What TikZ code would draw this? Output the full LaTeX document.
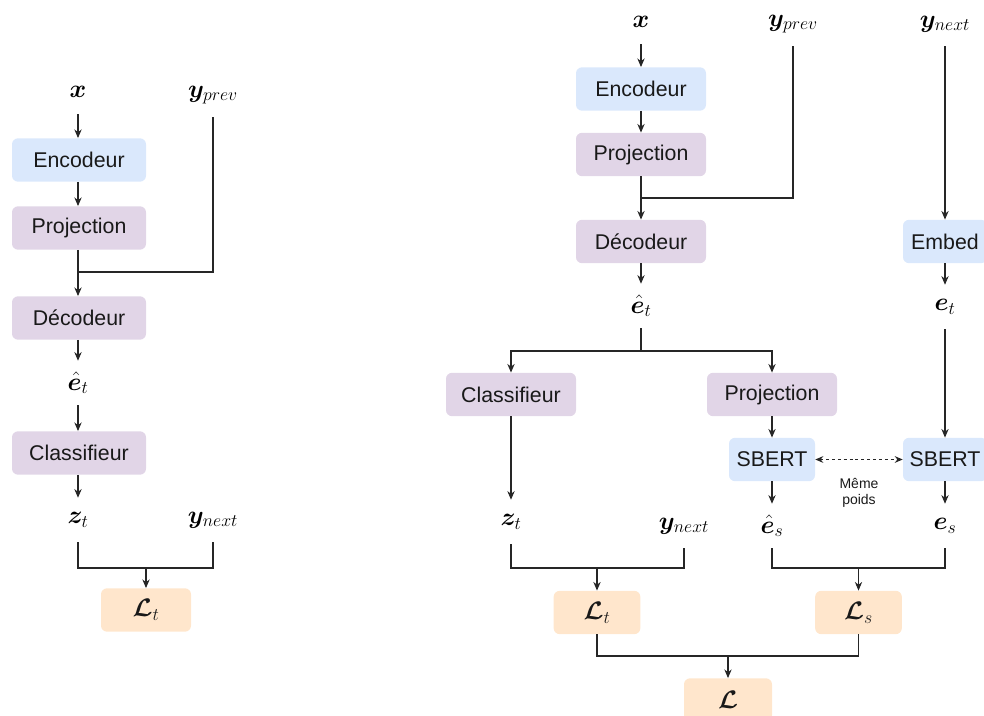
\RequirePackage{fix-cm}
\documentclass[tikz,border=0pt]{standalone}
\usepackage{fontspec}
\usepackage{amsmath,bm}
\newfontfamily\boxfont{Liberation Sans}
\usetikzlibrary{arrows.meta}
\definecolor{cblue}{HTML}{DAE8FC}
\definecolor{cpurple}{HTML}{E1D5E7}
\definecolor{corange}{HTML}{FFE6CC}
\definecolor{cline}{HTML}{262626}
\begin{document}
\begin{tikzpicture}[x=0.75pt,y=-0.75pt,
  box/.style={rounded corners=4.5pt, minimum height=32.5pt, inner sep=0pt, text=black!90,
    font=\boxfont\fontsize{16}{19}\selectfont},
  bbox/.style={box, fill=cblue},
  pbox/.style={box, fill=cpurple},
  obox/.style={box, fill=corange, font=\fontsize{19}{23}\selectfont},
  lab/.style={minimum height=33pt, inner sep=0pt, font=\fontsize{19}{23}\selectfont},
  conn/.style={draw=cline, line width=0.8pt},
  arr/.style={conn, -{Stealth[length=6.5pt,width=5.5pt]}},
  darr/.style={conn, dash pattern=on 2.2pt off 2.2pt, {Stealth[length=6pt,width=5pt]}-{Stealth[length=6pt,width=5pt]}}
]
\useasboundingbox (0,0) rectangle (984,716);

% ---------------- left diagram ----------------
\node[lab] (lx) at (78,92) {$\bm{x}$};
\node[lab] (lyp) at (213,95) {$\bm{y}_{prev}$};
\node[bbox, minimum width=100.5pt] (lenc) at (79,160) {Encodeur};
\node[pbox, minimum width=100.5pt] (lproj) at (79,228) {Projection};
\node[pbox, minimum width=100.5pt] (ldec) at (79,318) {Décodeur};
\node[lab] (let) at (78,383) {$\hat{\bm{e}}_t$};
\node[pbox, minimum width=100.5pt] (lcls) at (79,453) {Classifieur};
\node[lab] (lz) at (78,520) {$\bm{z}_t$};
\node[lab] (lyn) at (213,520) {$\bm{y}_{next}$};
\node[obox, minimum width=67.5pt] (lLt) at (146,610) {$\bm{\mathcal{L}}_t$};
\coordinate (ljoin) at (78,272);
\coordinate (lb) at (146,568);

\draw[arr] (lx.south) -- (lx.south |- lenc.north);
\draw[arr] (lx.south |- lenc.south) -- (lx.south |- lproj.north);
\draw[arr] (lx.south |- lproj.south) -- (lx.south |- ldec.north);
\draw[conn] (lyp.south) |- (ljoin);
\draw[arr] (lx.south |- ldec.south) -- (let.north);
\draw[arr] (let.south) -- (let.south |- lcls.north);
\draw[arr] (let.south |- lcls.south) -- (lz.north);
\draw[conn] (lz.south) |- (lb) -| (lyn.south);
\draw[arr] (lb) -- (lLt.north);

% ---------------- right diagram ----------------
\node[lab] (rx) at (641,22) {$\bm{x}$};
\node[lab] (ryp) at (793,24) {$\bm{y}_{prev}$};
\node[lab] (ryn) at (945,24) {$\bm{y}_{next}$};
\node[bbox, minimum width=97.5pt] (renc) at (641,89) {Encodeur};
\node[pbox, minimum width=97.5pt] (rproj) at (641,154.5) {Projection};
\node[pbox, minimum width=97.5pt] (rdec) at (641,241.5) {Décodeur};
\node[bbox, minimum width=63pt] (remb) at (945,241.5) {Embed};
\node[lab] (ret) at (641,306) {$\hat{\bm{e}}_t$};
\node[lab] (ret2) at (945,307) {$\bm{e}_t$};
\node[pbox, minimum width=97.5pt] (rcls) at (511,394.5) {Classifieur};
\node[pbox, minimum width=97.5pt] (rproj2) at (772,394.5) {Projection};
\node[bbox, minimum width=64.5pt] (rsb1) at (772,459.5) {SBERT};
\node[bbox, minimum width=63pt] (rsb2) at (945,459.5) {SBERT};
\node[align=center, inner sep=0pt, text=black!90, font=\boxfont\fontsize{10.5}{12.5}\selectfont] (rmp) at (859,493) {Même\\poids};
\node[lab] (rz) at (511,522) {$\bm{z}_t$};
\node[lab] (ryn2) at (684,526) {$\bm{y}_{next}$};
\node[lab] (res) at (772,526) {$\hat{\bm{e}}_s$};
\node[lab] (res2) at (945,526) {$\bm{e}_s$};
\node[obox, minimum width=65pt] (rLt) at (597,612.5) {$\bm{\mathcal{L}}_t$};
\node[obox, minimum width=65pt] (rLs) at (858.5,612.5) {$\bm{\mathcal{L}}_s$};
\node[obox, minimum width=66pt] (rL) at (728,700) {$\bm{\mathcal{L}}$};
\coordinate (rjoin) at (641,198);
\coordinate (rsplit) at (641,351);
\coordinate (rb1) at (597,568);
\coordinate (rb2) at (858.5,568);
\coordinate (rb3) at (728,656);

\draw[arr] (rx.south) -- (rx.south |- renc.north);
\draw[arr] (rx.south |- renc.south) -- (rx.south |- rproj.north);
\draw[arr] (rx.south |- rproj.south) -- (rx.south |- rdec.north);
\draw[conn] (ryp.south) |- (rjoin);
\draw[arr] (rx.south |- rdec.south) -- (ret.north);
\draw[conn] (ret.south) -- (rsplit);
\draw[arr] (rsplit) -| (rcls.north);
\draw[arr] (rsplit) -| (rproj2.north);
\draw[arr] (rcls.south) -- (rz.north);
\draw[arr] (rproj2.south) -- (rsb1.north);
\draw[arr] (rsb1.south) -- (res.north);
\draw[arr] (ryn.south) -- (remb.north);
\draw[arr] (remb.south) -- (ret2.north);
\draw[arr] (ret2.south) -- (rsb2.north);
\draw[arr] (rsb2.south) -- (res2.north);
\draw[darr] (rsb1.east) -- (rsb2.west);
\draw[conn] (rz.south) |- (rb1) -| (ryn2.south);
\draw[arr] (rb1) -- (rLt.north);
\draw[conn] (res.south) |- (rb2) -| (res2.south);
\draw[arr] (rb2) -- (rLs.north);
\draw[conn] (rLt.south) |- (rb3) -| (rLs.south);
\draw[arr] (rb3) -- (rL.north);
\end{tikzpicture}
\end{document}
